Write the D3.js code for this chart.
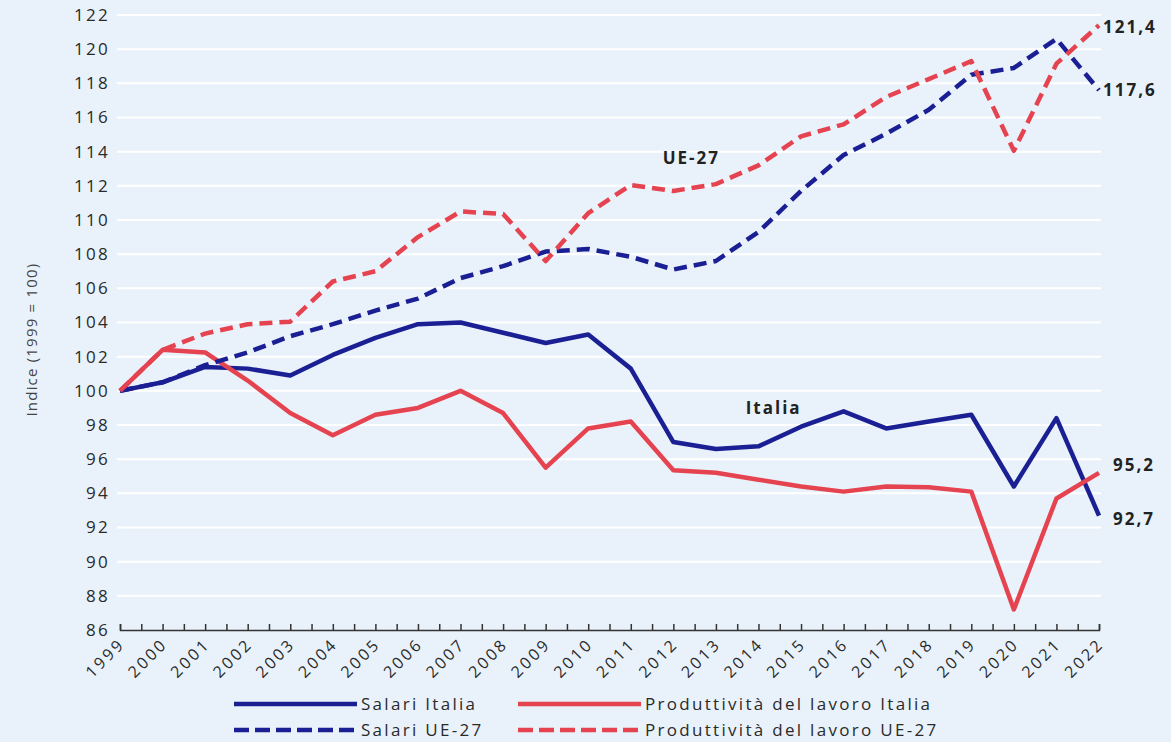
<!DOCTYPE html>
<html>
<head>
<meta charset="utf-8">
<script src="https://cdn.jsdelivr.net/npm/d3@7"></script>
<style>
  body { margin: 0; background: #e9f2fb; }
  svg { display: block; font-family: "Open Sans", sans-serif; }
</style>
</head>
<body>
<div id="chart"></div>
<script>
const years = d3.range(1999, 2023);
const salariItalia = [100, 100.5, 101.4, 101.3, 100.9, 102.1, 103.1, 103.9, 104.0, 103.4, 102.8, 103.3, 101.3, 97.0, 96.6, 96.75, 97.9, 98.8, 97.8, 98.2, 98.6, 94.4, 98.4, 92.7];
const prodItalia = [100, 102.4, 102.25, 100.6, 98.7, 97.4, 98.6, 99.0, 100.0, 98.7, 95.5, 97.8, 98.2, 95.35, 95.2, 94.8, 94.4, 94.1, 94.4, 94.35, 94.1, 87.2, 93.7, 95.2];
const salariUE = [100, 100.5, 101.5, 102.25, 103.2, 103.9, 104.7, 105.4, 106.6, 107.3, 108.15, 108.3, 107.85, 107.1, 107.6, 109.3, 111.7, 113.8, 115.05, 116.45, 118.5, 118.9, 120.6, 117.6];
const prodUE = [100, 102.4, 103.35, 103.9, 104.05, 106.4, 107.0, 109.0, 110.5, 110.35, 107.6, 110.4, 112.05, 111.7, 112.1, 113.2, 114.9, 115.6, 117.2, 118.25, 119.3, 114.05, 119.15, 121.4];
const yTicks = d3.range(86, 123, 2);

const blue = '#1b1f94';
const red = '#e5434f';

const series = [
    {name: 'Salari Italia', values: salariItalia, color: blue, dash: null, end: '92,7'},
    {name: 'Produttività del lavoro Italia', values: prodItalia, color: red, dash: null, end: '95,2'},
    {name: 'Salari UE-27', values: salariUE, color: blue, dash: '13,7', end: '117,6'},
    {name: 'Produttività del lavoro UE-27', values: prodUE, color: red, dash: '13,7', end: '121,4'}
];

const width = 1171, height = 742;
const margin = {top: 15, right: 72, bottom: 112, left: 120};

const svg = d3.select('#chart').append('svg')
    .attr('width', width)
    .attr('height', height);

const x = d3.scaleLinear()
    .domain([1999, 2022])
    .range([margin.left, width - margin.right]);

const y = d3.scaleLinear()
    .domain([86, 122])
    .range([height - margin.bottom, margin.top]);

// griglia orizzontale
svg.append('g')
    .selectAll('line')
    .data(yTicks.filter(d => d > 86))
    .join('line')
    .attr('x1', margin.left - 3)
    .attr('x2', width - margin.right + 2)
    .attr('y1', d => y(d))
    .attr('y2', d => y(d))
    .attr('stroke', '#fff')
    .attr('stroke-width', 2);

// asse y
svg.append('g')
    .selectAll('text')
    .data(yTicks)
    .join('text')
    .attr('x', margin.left - 10)
    .attr('y', d => y(d))
    .attr('dy', '0.35em')
    .attr('text-anchor', 'end')
    .style('font-size', '17px')
    .style('letter-spacing', '2.3px')
    .attr('fill', '#2a2a2a')
    .text(d => d);

svg.append('text')
    .attr('transform', `translate(37,${y(103)}) rotate(-90)`)
    .attr('text-anchor', 'middle')
    .style('font-size', '15px')
    .style('letter-spacing', '1.2px')
    .attr('fill', '#444')
    .text('Indice (1999 = 100)');

// asse x
const xAxis = d3.axisBottom(x)
    .tickValues(d3.range(1999, 2022.01, 0.5))
    .tickSize(-6)
    .tickFormat('');

const gx = svg.append('g')
    .attr('transform', `translate(0,${y(86)})`)
    .call(xAxis);
gx.select('.domain').attr('stroke', '#333').attr('stroke-width', 1.5);
gx.selectAll('.tick line').attr('stroke', '#333').attr('stroke-width', 1.5);

svg.append('g')
    .selectAll('text')
    .data(years)
    .join('text')
    .attr('transform', d => `translate(${x(d) + 2},${y(86) + 11}) rotate(-45)`)
    .attr('text-anchor', 'end')
    .attr('dy', '0.35em')
    .style('font-size', '16px')
    .style('letter-spacing', '2.8px')
    .attr('fill', '#2a2a2a')
    .text(d => d);

// linee
const line = d3.line()
    .x((d, i) => x(years[i]))
    .y(d => y(d));

svg.append('g')
    .selectAll('path')
    .data(series)
    .join('path')
    .attr('d', d => line(d.values))
    .attr('fill', 'none')
    .attr('stroke', d => d.color)
    .attr('stroke-width', 4.5)
    .attr('stroke-linejoin', 'round')
    .attr('stroke-dasharray', d => d.dash);

// etichette finali
const endOffsets = {'92,7': [14, 4], '95,2': [14, -8], '117,6': [4, 0], '121,4': [4, 2]};
svg.append('g')
    .selectAll('text')
    .data(series)
    .join('text')
    .attr('x', d => x(2022) + endOffsets[d.end][0])
    .attr('y', d => y(d.values[d.values.length - 1]) + endOffsets[d.end][1])
    .attr('dy', '0.35em')
    .style('font-size', '17px')
    .style('font-weight', 'bold')
    .style('letter-spacing', '2px')
    .attr('fill', '#222')
    .text(d => d.end);

svg.append('text')
    .attr('x', x(2011.75))
    .attr('y', y(113.3))
    .style('font-size', '17px')
    .style('font-weight', 'bold')
    .style('letter-spacing', '2px')
    .attr('fill', '#222')
    .text('UE-27');

svg.append('text')
    .attr('x', x(2013.7))
    .attr('y', y(98.65))
    .style('font-size', '17px')
    .style('font-weight', 'bold')
    .style('letter-spacing', '2px')
    .attr('fill', '#222')
    .text('Italia');

// legenda
const legendPos = [[234, 704], [518, 704], [234, 730], [518, 730]];
const legend = svg.append('g')
    .selectAll('g')
    .data(series)
    .join('g')
    .attr('transform', (d, i) => `translate(${legendPos[i][0]},${legendPos[i][1]})`);

legend.append('line')
    .attr('x1', 0)
    .attr('x2', 123)
    .attr('stroke', d => d.color)
    .attr('stroke-width', 4.5)
    .attr('stroke-dasharray', d => d.dash ? '15,6' : null);

legend.append('text')
    .attr('x', 127)
    .attr('dy', '0.35em')
    .style('font-size', '17px')
    .style('letter-spacing', '2.3px')
    .attr('fill', '#2a2a2a')
    .text(d => d.name);
</script>
</body>
</html>
